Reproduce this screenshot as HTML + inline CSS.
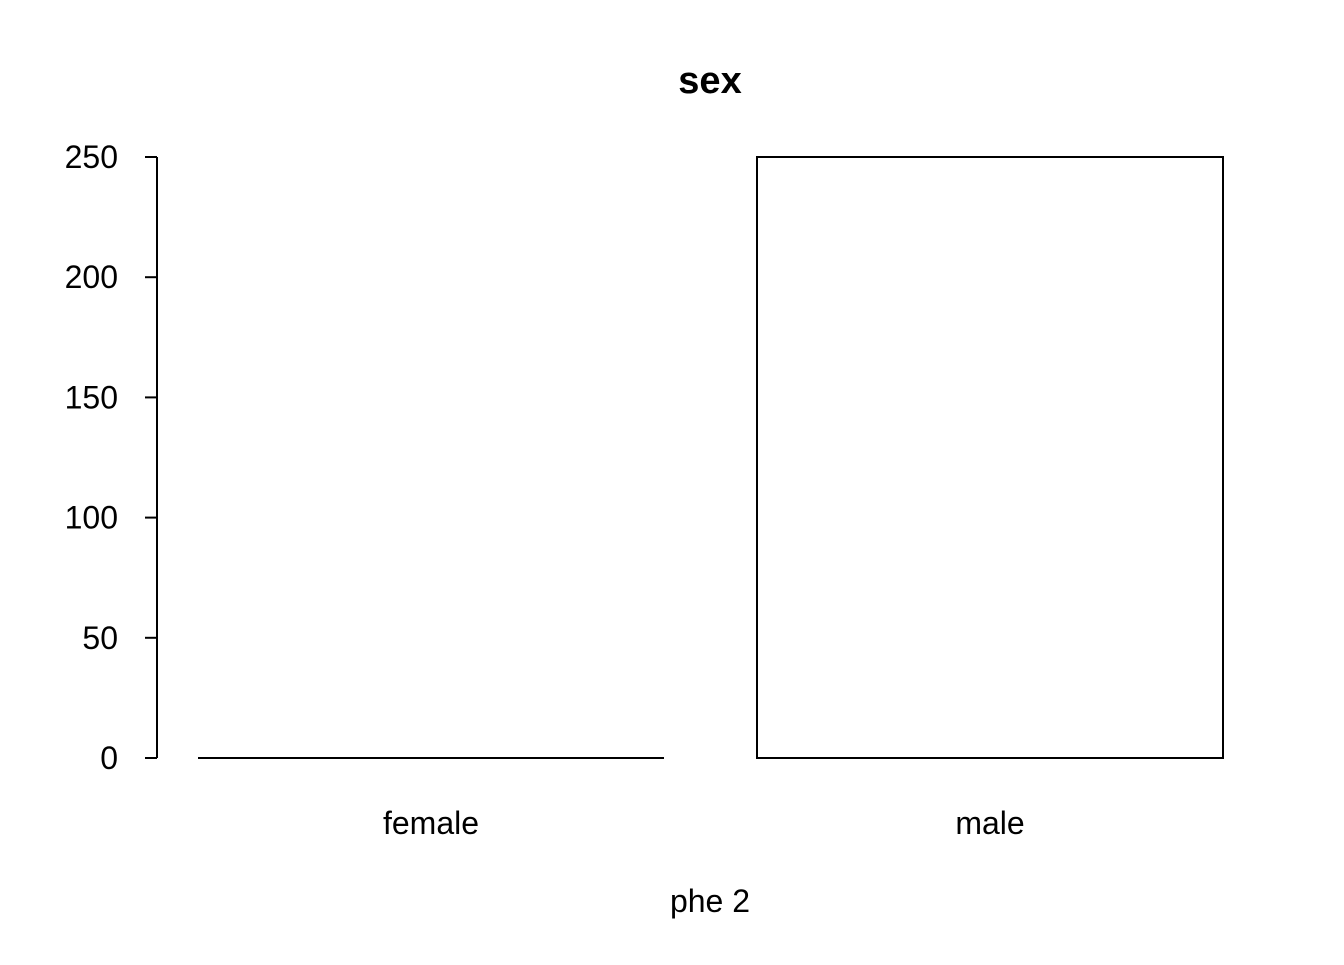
<!DOCTYPE html>
<html><head><meta charset="utf-8"><style>
html,body{margin:0;padding:0;background:#fff;}
svg text{font-family:"Liberation Sans",Arial,sans-serif;fill:#000;}
</style></head><body>
<svg id="chart" width="1344" height="960" viewBox="0 0 1344 960" xmlns="http://www.w3.org/2000/svg">
<rect width="1344" height="960" fill="#fff"/>
<text x="710" y="93" text-anchor="middle" font-size="38" font-weight="bold">sex</text>
<text x="710" y="912" text-anchor="middle" font-size="32">phe 2</text>
<g id="yaxis"></g>
<g id="bars"></g>
</svg>
<script>
const categories = ["female", "male"];
const counts = [0, 250];
const yTicks = [0, 50, 100, 150, 200, 250];

const NS = "http://www.w3.org/2000/svg";
const y0 = 758, yTop = 157, vMax = 250;
function yScale(v){ return y0 - (v / vMax) * (y0 - yTop); }
const barStart = 198, barW = 466, barGap = 93;
function xScale(i){ return barStart + i * (barW + barGap); }

function mk(tag, attrs, parent){
  const el = document.createElementNS(NS, tag);
  for (const k in attrs) el.setAttribute(k, attrs[k]);
  parent.appendChild(el);
  return el;
}
const ya = document.getElementById('yaxis');
const axisLine = mk('line', {x1:157, x2:157, y1:yScale(yTicks[0]), y2:yScale(yTicks[yTicks.length-1]), stroke:'#000', 'stroke-width':2}, ya);


yTicks.forEach(t => {
  const y = yScale(t);
  const tk = mk('line', {x1:145, x2:157, y1:y, y2:y, stroke:'#000', 'stroke-width':2}, ya);
  
  
  const lb = mk('text', {x:118, y:y + 11, 'text-anchor':'end', 'font-size':32}, ya);
  lb.textContent = t;
  
  
});
const bg = document.getElementById('bars');
categories.forEach((c, i) => {
  const x = xScale(i), y = yScale(counts[i]);
  const h = y0 - y;
  const d = 'M' + x + ',' + y0 + ' L' + x + ',' + y + ' L' + (x + barW) + ',' + y + ' L' + (x + barW) + ',' + y0 + ' Z';
  const r = mk('path', {d:d, fill:'none', stroke:'#000', 'stroke-width':2, 'stroke-linejoin':'miter'}, bg);
  
  
  const lb = mk('text', {x:x + barW/2, y:834, 'text-anchor':'middle', 'font-size':32}, bg);
  lb.textContent = c;
  
  
});
</script>
</body></html>
